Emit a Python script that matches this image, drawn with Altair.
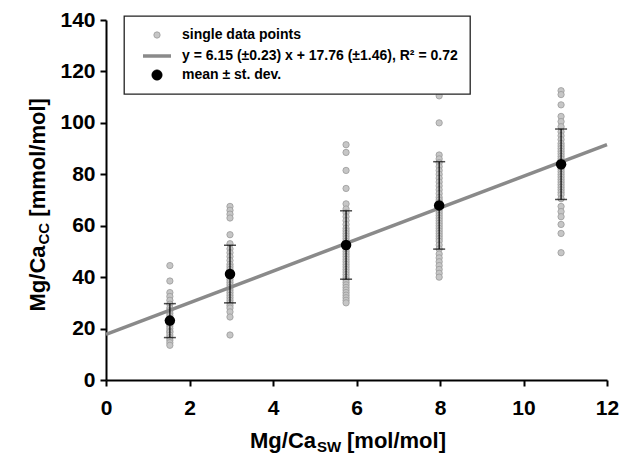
import altair as alt
import pandas as pd

# ---------------- data ----------------
cluster_x = [1.53, 2.97, 5.75, 7.98, 10.9]

pts_c1 = [44.5, 38.5, 34, 32.5, 31, 29.5, 28, 27, 26, 25, 24, 23, 22, 21, 20,
          19, 18.5, 17.5, 16.5, 15.5, 14.5, 13.5]
pts_c2 = [67.5, 66, 64.5, 63, 56.5, 53, 51, 49.5, 48, 46.5, 45, 44, 43, 42, 41,
          40, 39, 38, 37, 36, 35, 34, 33, 32, 31, 30, 29, 28, 26.5, 24.5, 17.5]
pts_c3 = [91.5, 88.5, 81.5, 74.5, 68.5, 66.5, 65, 63.5, 62, 60.5, 59, 58, 57, 56,
          55, 54, 53, 52, 51, 50, 49, 48, 47, 46, 45, 44, 43, 42, 41, 40, 39, 38,
          37, 36, 35, 34, 33, 32, 31, 30]
pts_c4 = [110.5, 100, 87.5, 86, 84.5, 83, 81.5, 80, 78.5, 77, 75.5, 74, 72.5, 71,
          70, 69, 68, 67, 66, 65, 64, 63, 62, 61, 60, 59, 58, 57, 56, 55, 54, 52.5,
          51, 49, 47.5, 46, 44.5, 43, 41.5, 40]
pts_c5 = [112.5, 111, 107, 102.5, 100.5, 98.5, 96.5, 95, 93.5, 92, 91, 90, 89, 88,
          87, 86, 85, 84, 83, 82, 81, 80, 79, 78, 77, 76, 75, 74, 73, 72, 70.5,
          67.5, 65.5, 63.5, 60.5, 57, 49.5]

mean_y = [23.1, 41.2, 52.5, 67.9, 83.9]
sd_y = [6.6, 11.2, 13.3, 17.0, 13.7]

reg_x = [0, 12]
reg_y = [17.76, 91.56]

legend_labels = [
    "single data points",
    "y = 6.15 (±0.23) x + 17.76 (±1.46), R² = 0.72",
    "mean ± st. dev.",
]

x_ticks = [0, 2, 4, 6, 8, 10, 12]
y_ticks = [0, 20, 40, 60, 80, 100, 120, 140]

# ---------------- tables built from the arrays ----------------
all_pts = [pts_c1, pts_c2, pts_c3, pts_c4, pts_c5]
pts_df = pd.DataFrame(
    [{"x": cx, "y": v} for cx, vals in zip(cluster_x, all_pts) for v in vals]
)
mean_df = pd.DataFrame({
    "x": cluster_x,
    "m": mean_y,
    "lo": [m - s for m, s in zip(mean_y, sd_y)],
    "hi": [m + s for m, s in zip(mean_y, sd_y)],
})
reg_df = pd.DataFrame({"x": reg_x, "y": reg_y})
leg_df = pd.DataFrame({"label": legend_labels})

FONT = "Liberation Sans"

xs = alt.Scale(domain=[0, 12], nice=False, zero=False)
ys = alt.Scale(domain=[0, 140], nice=False, zero=False)

axis_common = dict(
    grid=False, domainColor="black", domainWidth=2, tickColor="black",
    tickWidth=2, tickSize=6, labelFont=FONT, labelFontSize=21,
    labelFontWeight="bold", labelColor="black", labelFlush=False, title=None,
)
x_axis = alt.Axis(values=x_ticks, labelPadding=11, **axis_common)
y_axis = alt.Axis(values=y_ticks, labelPadding=5, **axis_common)

X = alt.X("x:Q", scale=xs, axis=x_axis)

points = alt.Chart(pts_df).mark_circle(
    size=40, color="#c6c6c6", stroke="#9a9a9a", strokeWidth=0.8, opacity=1
).encode(x=X, y=alt.Y("y:Q", scale=ys, axis=y_axis))

reg = alt.Chart(reg_df).mark_line(color="#8a8a8a", strokeWidth=3.5).encode(
    x=alt.X("x:Q", scale=xs), y=alt.Y("y:Q", scale=ys)
)

err = alt.Chart(mean_df).mark_rule(color="black", strokeWidth=1.2).encode(
    x=alt.X("x:Q", scale=xs), y=alt.Y("lo:Q", scale=ys), y2="hi:Q"
)
cap_lo = alt.Chart(mean_df).mark_tick(
    orient="horizontal", color="black", size=12, thickness=1.5
).encode(x=alt.X("x:Q", scale=xs), y=alt.Y("lo:Q", scale=ys))
cap_hi = alt.Chart(mean_df).mark_tick(
    orient="horizontal", color="black", size=12, thickness=1.5
).encode(x=alt.X("x:Q", scale=xs), y=alt.Y("hi:Q", scale=ys))

means = alt.Chart(mean_df).mark_circle(size=110, color="black", opacity=1).encode(
    x=alt.X("x:Q", scale=xs), y=alt.Y("m:Q", scale=ys)
)

# ---------------- legend (Vega legend driven by a hidden, clipped layer) ----------------
leg = alt.Legend(
    title=None, orient="none", legendX=18, legendY=-4, padding=12,
    symbolOffset=12, labelOffset=16, rowPadding=5,
    labelFont=FONT, labelFontSize=14, labelFontWeight="bold",
    labelColor="black", labelLimit=500,
    fillColor="white", strokeColor="#222222",
)
dom = legend_labels
legend_layer = alt.Chart(leg_df).mark_point(filled=True, clip=True, opacity=1).encode(
    x=alt.value(-300), y=alt.value(-300),
    fill=alt.Fill("label:N", scale=alt.Scale(domain=dom, range=["#c6c6c6", "#8a8a8a", "black"]), legend=leg),
    stroke=alt.Stroke("label:N", scale=alt.Scale(domain=dom, range=["#9a9a9a", "#8a8a8a", "black"]), legend=leg),
    shape=alt.Shape("label:N", scale=alt.Scale(domain=dom, range=["circle", "M-2,0H2", "circle"]), legend=leg),
    size=alt.Size("label:N", scale=alt.Scale(type="ordinal", domain=dom, range=[40, 196, 110]), legend=leg),
    strokeWidth=alt.StrokeWidth("label:N", scale=alt.Scale(type="ordinal", domain=dom, range=[0.8, 3.5, 0.5]), legend=leg),
)

# ---------------- axis titles with subscripts ----------------
def txt(s, x, y, size, angle=0):
    kw = dict(align="left", baseline="alphabetic", font=FONT, fontSize=size,
              fontWeight="bold", color="black")
    if angle:
        kw["angle"] = angle
    return alt.Chart(pd.DataFrame({"t": [s]})).mark_text(**kw).encode(
        text="t:N", x=alt.value(x), y=alt.value(y)
    )

xt1 = txt("Mg/Ca", 144, 428, 22)
xt2 = txt("SW", 211, 432, 15)
xt3 = txt("[mol/mol]", 241, 428, 22)

yt1 = txt("Mg/Ca", -61, 291.5, 22, 270)
yt2 = txt("CC", -57.5, 224.5, 15, 270)
yt3 = txt("[mmol/mol]", -61, 196.7, 22, 270)

chart = alt.layer(
    points, reg, err, cap_lo, cap_hi, means, legend_layer,
    xt1, xt2, xt3, yt1, yt2, yt3,
).properties(
    width=501, height=360,
    padding={"left": 106, "top": 20, "right": 14, "bottom": 87},
    autosize="none",
).configure_view(strokeWidth=0).configure_legend(strokeWidth=1.3)

chart.save("out.html", embed_options={"renderer": "svg", "actions": False})
